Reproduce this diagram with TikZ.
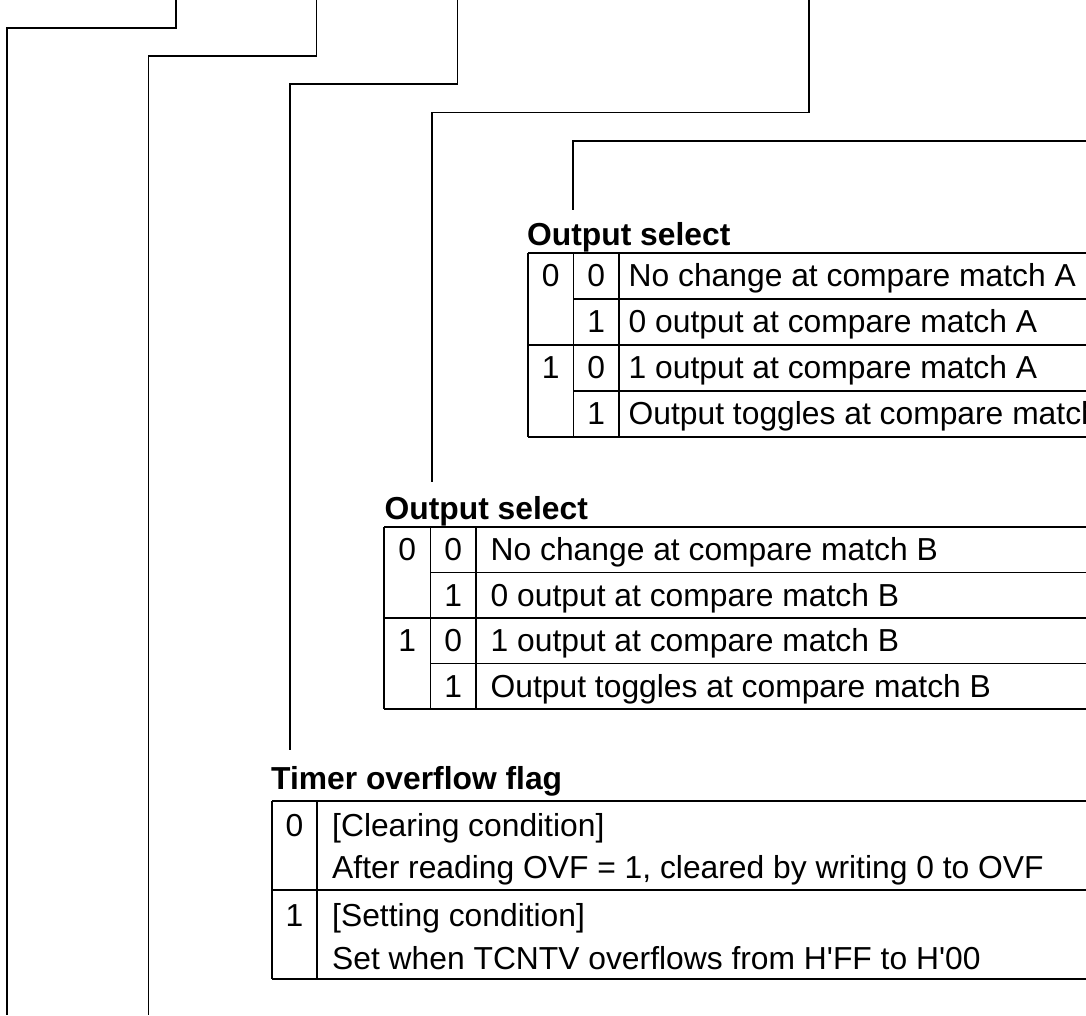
\documentclass[tikz,border=0pt]{standalone}
\usepackage{fontspec}
\newfontfamily\arialf{Liberation Sans}
\begin{document}
\begin{tikzpicture}[x=1pt,y=-1pt,
  ln/.style={line width=1.2pt, black},
  cell/.style={font=\arialf\fontsize{31.8}{38}\selectfont, inner sep=0pt, anchor=base},
  txt/.style={cell, anchor=base west},
  head/.style={font=\arialf\fontsize{31.8}{38}\selectfont\bfseries, inner sep=0pt, anchor=base west}]
\useasboundingbox (0,0) rectangle (1086,1015);
\clip (0,0) rectangle (1086,1015);

% ---------- headers ----------
\node[head] (hA) at (527,245) {Output select};
\node[head] (hB) at (384.5,519) {Output select};
\node[head] (hC) at (271,789) {Timer overflow flag};

% ---------- leader lines (bit positions at the top edge) ----------
\coordinate (b1) at (176,0);
\coordinate (b2) at (316.7,0);
\coordinate (b3) at (457.3,0);
\coordinate (b4) at (809,0);
\coordinate (b5) at (1086,141);
\coordinate (e1) at (7,1015);
\coordinate (e2) at (148.3,1015);
\coordinate (e3) at (290,750);
\coordinate (e4) at (432,482);
\coordinate (e5) at (573,210);

\draw[ln] (b1) |- (7,28) -- (e1);
\draw[ln] (b2) |- (148.3,56) -- (e2);
\draw[ln] (b3) |- (290,84) -- (e3);
\draw[ln] (b4) |- (432,112.5) -- (e4);
\draw[ln] (b5) -| (e5);

% ---------- table A ----------
\draw[ln] (528,253) -- (1086,253);
\draw[ln] (573.5,299) -- (1086,299);
\draw[ln] (528,345) -- (1086,345);
\draw[ln] (573.5,391) -- (1086,391);
\draw[ln] (528,437) -- (1086,437);
\draw[ln] (528,253) -- (528,437);
\draw[ln] (573.5,253) -- (573.5,437);
\draw[ln] (619,253) -- (619,437);

\node[cell] (a10) at (550.75,286.8) {0};
\node[cell] (a20) at (596.25,286.8) {0};
\node[txt]  (a30) at (628.5,286.8) {No change at compare match A};
\node[cell] (a21) at (596.25,332.8) {1};
\node[txt]  (a31) at (628.5,332.8) {0 output at compare match A};
\node[cell] (a12) at (550.75,378.8) {1};
\node[cell] (a22) at (596.25,378.8) {0};
\node[txt]  (a32) at (628.5,378.8) {1 output at compare match A};
\node[cell] (a23) at (596.25,424.8) {1};
\node[txt]  (a33) at (628.5,424.8) {Output toggles at compare match A};

% ---------- table B ----------
\draw[ln] (384,527) -- (1086,527);
\draw[ln] (430.5,572.5) -- (1086,572.5);
\draw[ln] (384,618) -- (1086,618);
\draw[ln] (430.5,663.5) -- (1086,663.5);
\draw[ln] (384,709) -- (1086,709);
\draw[ln] (384,527) -- (384,709);
\draw[ln] (430.5,527) -- (430.5,709);
\draw[ln] (476,527) -- (476,709);

\node[cell] (b10) at (407.25,560.5) {0};
\node[cell] (b20) at (453.25,560.5) {0};
\node[txt]  (b30) at (490.5,560.5) {No change at compare match B};
\node[cell] (b21) at (453.25,606) {1};
\node[txt]  (b31) at (490.5,606) {0 output at compare match B};
\node[cell] (b12) at (407.25,651.5) {1};
\node[cell] (b22) at (453.25,651.5) {0};
\node[txt]  (b32) at (490.5,651.5) {1 output at compare match B};
\node[cell] (b23) at (453.25,697) {1};
\node[txt]  (b33) at (490.5,697) {Output toggles at compare match B};

% ---------- table C ----------
\draw[ln] (272,801) -- (1086,801);
\draw[ln] (272,890) -- (1086,890);
\draw[ln] (272,979) -- (1086,979);
\draw[ln] (272,801) -- (272,979);
\draw[ln] (317,801) -- (317,979);

\node[cell] (c10) at (294.5,836) {0};
\node[txt]  (c11) at (332,836) {[Clearing condition]};
\node[txt]  (c12) at (332,878) {After reading OVF = 1, cleared by writing 0 to OVF};
\node[cell] (c20) at (294.5,926) {1};
\node[txt]  (c21) at (332,926) {[Setting condition]};
\node[txt]  (c22) at (332,969) {Set when TCNTV overflows from H'FF to H'00};
\end{tikzpicture}
\end{document}
